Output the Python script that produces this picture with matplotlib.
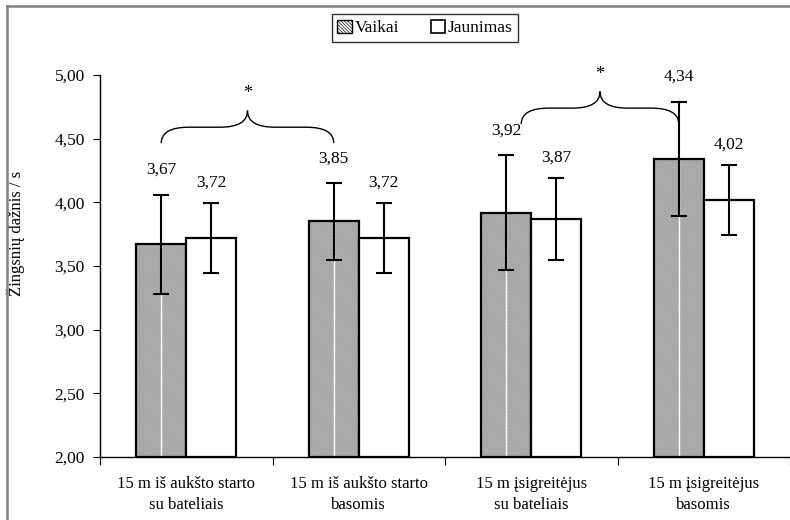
import matplotlib
matplotlib.use("Agg")
import matplotlib.pyplot as plt
from matplotlib.path import Path
from matplotlib.patches import PathPatch, Patch
from matplotlib.lines import Line2D
import numpy as np

plt.rcParams['font.family'] = ['Liberation Serif', 'DejaVu Serif']
plt.rcParams['hatch.linewidth'] = 0.45

categories = ["15 m iš aukšto starto\nsu bateliais", "15 m iš aukšto starto\nbasomis",
              "15 m įsigreitėjus\nsu bateliais", "15 m įsigreitėjus\nbasomis"]
series_names = ["Vaikai", "Jaunimas"]
vaikai = [3.67, 3.85, 3.92, 4.34]
jaunimas = [3.72, 3.72, 3.87, 4.02]
vaikai_sd = [0.39, 0.30, 0.45, 0.45]
jaunimas_sd = [0.275, 0.275, 0.32, 0.275]
value_labels_v = ["3,67", "3,85", "3,92", "4,34"]
value_labels_j = ["3,72", "3,72", "3,87", "4,02"]
yticks = [2.0, 2.5, 3.0, 3.5, 4.0, 4.5, 5.0]
ytick_labels = ["2,00", "2,50", "3,00", "3,50", "4,00", "4,50", "5,00"]
# significance braces: (Vaikai index a, Vaikai index b)
sig_pairs = [(0, 1), (2, 3)]

fig = plt.figure(figsize=(7.9, 5.2), dpi=100)
ax = fig.add_axes([100/790, (520-457)/520, 690/790, (457-75)/520])

x = np.arange(len(categories))
w = 0.29
xv = x - w/2
xj = x + w/2

# Vaikai hatched bars
ax.bar(xv, np.array(vaikai) - 2.0, bottom=2.0, width=w, color='white',
       edgecolor='#7a7a7a', hatch='\\' * 24, linewidth=0, zorder=2)
ax.vlines(xv, 2.0, vaikai, colors='white', linewidth=1.0, zorder=2.5)
ax.bar(xv, np.array(vaikai) - 2.0, bottom=2.0, width=w, fill=False,
       edgecolor='black', linewidth=1.6, zorder=3)
# Jaunimas white bars
ax.bar(xj, np.array(jaunimas) - 2.0, bottom=2.0, width=w, color='white',
       edgecolor='black', linewidth=1.6, zorder=3)

ax.errorbar(xv, vaikai, yerr=vaikai_sd, fmt='none', ecolor='black',
            elinewidth=1.5, capsize=5.5, capthick=1.5, zorder=4)
ax.errorbar(xj, jaunimas, yerr=jaunimas_sd, fmt='none', ecolor='black',
            elinewidth=1.5, capsize=5.5, capthick=1.5, zorder=4)

for xi, v, s, lab in zip(xv, vaikai, vaikai_sd, value_labels_v):
    ax.annotate(lab, (xi, v + s), xytext=(0, 12), textcoords='offset points',
                ha='center', va='bottom', fontsize=12.5)
for xi, v, s, lab in zip(xj, jaunimas, jaunimas_sd, value_labels_j):
    ax.annotate(lab, (xi, v + s), xytext=(0, 9), textcoords='offset points',
                ha='center', va='bottom', fontsize=12.5)

def brace(ax, x0, x1, yb, h_end, h_tip, r):
    xm = (x0 + x1) / 2
    verts = [
        (x0, yb - h_end), (x0, yb), (x0 + r, yb),
        (xm - r, yb),
        (xm, yb), (xm, yb + h_tip),
        (xm, yb), (xm + r, yb),
        (x1 - r, yb),
        (x1, yb), (x1, yb - h_end),
    ]
    codes = [Path.MOVETO, Path.CURVE3, Path.CURVE3, Path.LINETO,
             Path.CURVE3, Path.CURVE3, Path.CURVE3, Path.CURVE3,
             Path.LINETO, Path.CURVE3, Path.CURVE3]
    ax.add_patch(PathPatch(Path(verts, codes), fill=False, edgecolor='black',
                           linewidth=1.0, clip_on=False, zorder=5))

brace_y = [4.59, 4.74]
brace_x0_shift = [0.0, 0.087]
for (a, b), yb, sh in zip(sig_pairs, brace_y, brace_x0_shift):
    x0 = xv[a] + sh
    x1 = xv[b]
    brace(ax, x0, x1, yb, 0.125, 0.13, 0.16)
    ax.text((x0 + x1) / 2, yb + 0.2, "*", ha='center', va='bottom', fontsize=13)

ax.set_xlim(-0.5, len(categories) - 0.5)
ax.set_ylim(2.0, 5.0)
ax.set_yticks(yticks)
ax.set_yticklabels(ytick_labels, fontsize=12.5)
ax.set_xticks(np.arange(len(categories) + 1) - 0.5)
ax.set_xticklabels([])
ax.set_xticks(x, minor=True)
ax.set_xticklabels(categories, minor=True, fontsize=12, linespacing=1.35)
ax.tick_params(axis='x', which='minor', length=0, pad=14)
ax.tick_params(axis='x', which='major', length=6, direction='out', width=0.8)
ax.tick_params(axis='y', length=5, direction='out', width=0.8, pad=6)
for s in ['top', 'right']:
    ax.spines[s].set_visible(False)
for s in ['left', 'bottom']:
    ax.spines[s].set_linewidth(1.0)
ax.set_ylabel("Žingsnių dažnis / s", fontsize=12)
ax.yaxis.set_label_coords(-0.108, 0.586)

handles = [Patch(facecolor='white', edgecolor='black', hatch='\\' * 10, linewidth=1.0),
           Patch(facecolor='white', edgecolor='black', linewidth=1.2)]
leg = fig.legend(handles, series_names, loc='center', bbox_to_anchor=(425/790, 1 - 28/520),
                 ncol=2, fontsize=12.5, frameon=True, fancybox=False, edgecolor='black',
                 handlelength=0.85, handleheight=0.85, handletextpad=0.15, columnspacing=1.8,
                 borderpad=0.3, borderaxespad=0)
leg.get_frame().set_linewidth(1.0)

# outer chart border (top and left visible)
fig.add_artist(Line2D([7/790, 7/790], [0, 1 - 6/520], color='#808080', linewidth=1.8))
fig.add_artist(Line2D([7/790, 1], [1 - 6/520, 1 - 6/520], color='#808080', linewidth=1.8))

fig.savefig("out.png", dpi=100)
